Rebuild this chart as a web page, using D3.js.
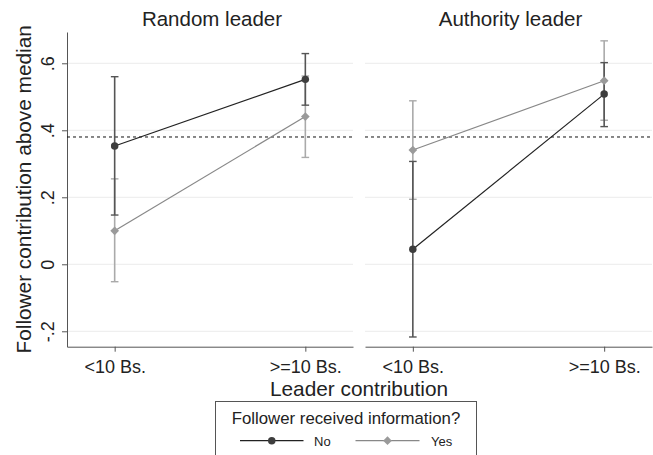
<!DOCTYPE html>
<html>
<head>
<meta charset="utf-8">
<script src="https://cdn.jsdelivr.net/npm/d3@7"></script>
<style>
  html, body { margin: 0; padding: 0; background: #fff; }
  svg { display: block; font-family: "Liberation Sans", Arial, Helvetica, sans-serif; }
</style>
</head>
<body>
<svg id="chart" width="653" height="455"></svg>
<script>
// Leader contribution categories and panel names
const categories = ["<10 Bs.", ">=10 Bs."];
const panels = ["Random leader", "Authority leader"];
const seriesNames = ["No", "Yes"];

// Follower received information? = No  (per panel: [<10, >=10])
const noMean = [[0.353, 0.552], [0.045, 0.508]];
const noLow  = [[0.147, 0.475], [-0.217, 0.411]];
const noHigh = [[0.560, 0.629], [0.307, 0.602]];

// Follower received information? = Yes
const yesMean = [[0.100, 0.441], [0.341, 0.548]];
const yesLow  = [[-0.052, 0.319], [0.194, 0.430]];
const yesHigh = [[0.255, 0.562], [0.488, 0.667]];

// Median reference line
const medianRef = 0.380;

const yTicks = [-0.2, 0, 0.2, 0.4, 0.6];
const yTickLabels = ["-.2", "0", ".2", ".4", ".6"];

const svg = d3.select("#chart");

const panelX = [[67, 353], [365, 652]];
const plotTop = 32, plotBottom = 346.7;

const y = d3.scaleLinear().domain([-0.246, 0.6934]).range([plotBottom, plotTop]);

const colors = {
  No:  { line: "#222", marker: "#3d3d3d", err: "#555" },
  Yes: { line: "#888", marker: "#9a9a9a", err: "#aaa" }
};

// markers: filled circle, and a square turned 45 degrees
const markerShape = {
  No:  { type: d3.symbolCircle, size: 44, rot: 0 },
  Yes: { type: d3.symbolSquare, size: 38, rot: 45 }
};

const series = [
  { name: "Yes", mean: yesMean, low: yesLow, high: yesHigh },
  { name: "No",  mean: noMean,  low: noLow,  high: noHigh }
];

panels.forEach((title, p) => {
  const [x0, x1] = panelX[p];
  const x = d3.scaleLinear().domain([-0.25, 1.25]).range([x0, x1]);
  const g = svg.append("g");

  // gridlines
  g.selectAll("line.grid").data(yTicks).join("line")
    .attr("x1", x0).attr("x2", x1)
    .attr("y1", d => y(d)).attr("y2", d => y(d))
    .attr("stroke", "#ebebeb").attr("stroke-width", 1);

  // x axis
  const xAxis = d3.axisBottom(x).tickValues([0, 1]).tickFormat(i => categories[i]).tickSize(5).tickSizeOuter(0);
  const xa = g.append("g").attr("transform", `translate(0,${plotBottom})`).call(xAxis);
  xa.attr("font-family", null);
  xa.select(".domain").attr("stroke", "#555");
  xa.selectAll(".tick line").attr("stroke", "#555");
  xa.selectAll(".tick text").attr("font-size", 18).attr("fill", "#222").attr("dy", 0).attr("y", 26);

  // y axis on the first panel only
  if (p === 0) {
    const yAxis = d3.axisLeft(y).tickValues(yTicks).tickFormat((d, i) => yTickLabels[i]).tickSize(5).tickSizeOuter(0);
    const ya = g.append("g").attr("transform", `translate(${x0},0)`).call(yAxis);
    ya.attr("font-family", null);
    ya.select(".domain").attr("stroke", "#555");
    ya.selectAll(".tick line").attr("stroke", "#555");
    ya.selectAll(".tick text")
      .attr("font-size", 18).attr("fill", "#222")
      .attr("x", null).attr("dy", null)
      .attr("text-anchor", "middle")
      .attr("transform", "translate(-13,0) rotate(-90)");
  }

  // median reference line
  g.append("line")
    .attr("x1", x0).attr("x2", x1)
    .attr("y1", y(medianRef)).attr("y2", y(medianRef))
    .attr("stroke", "#111").attr("stroke-width", 1).attr("stroke-dasharray", "3,3");

  // panel title
  g.append("text")
    .attr("x", (x0 + x1) / 2 + 2).attr("y", 26)
    .attr("text-anchor", "middle").attr("font-size", 20.5).attr("fill", "#222")
    .text(title);

  // error bars
  series.forEach(s => {
    const c = colors[s.name];
    [0, 1].forEach(i => {
      const cx = x(i);
      g.append("line").attr("x1", cx).attr("x2", cx)
        .attr("y1", y(s.low[p][i])).attr("y2", y(s.high[p][i]))
        .attr("stroke", c.err).attr("stroke-width", 1.6);
      [s.low[p][i], s.high[p][i]].forEach(v => {
        g.append("line").attr("x1", cx - 3.8).attr("x2", cx + 3.8)
          .attr("y1", y(v)).attr("y2", y(v))
          .attr("stroke", c.err).attr("stroke-width", 1.4);
      });
    });
  });

  // connecting lines and markers
  series.forEach(s => {
    const c = colors[s.name];
    const m = markerShape[s.name];
    const pts = [0, 1].map(i => [x(i), y(s.mean[p][i])]);
    g.append("path").attr("d", d3.line()(pts))
      .attr("fill", "none").attr("stroke", c.line).attr("stroke-width", 1.2);
    g.selectAll(null).data(pts).join("path")
      .attr("transform", d => `translate(${d[0]},${d[1]}) rotate(${m.rot})`)
      .attr("d", d3.symbol().type(m.type).size(m.size))
      .attr("fill", c.marker);
  });
});

// y axis title
svg.append("text")
  .attr("transform", `translate(31,${(plotTop + plotBottom) / 2}) rotate(-90)`)
  .attr("text-anchor", "middle").attr("font-size", 20.8).attr("fill", "#222")
  .text("Follower contribution above median");

// x axis title
svg.append("text")
  .attr("x", 359).attr("y", 396)
  .attr("text-anchor", "middle").attr("font-size", 20.8).attr("fill", "#222")
  .text("Leader contribution");

// legend
const lg = svg.append("g");
lg.append("rect")
  .attr("x", 215.5).attr("y", 401.5).attr("width", 261).attr("height", 70)
  .attr("fill", "#fff").attr("stroke", "#555").attr("stroke-width", 1);
lg.append("text")
  .attr("x", 346).attr("y", 424)
  .attr("text-anchor", "middle").attr("font-size", 16.8).attr("fill", "#222")
  .text("Follower received information?");

const legendItems = [
  { name: "No", x1: 240, x2: 303.5, tx: 314 },
  { name: "Yes", x1: 355.5, x2: 419.5, tx: 431 }
];
legendItems.forEach(it => {
  const c = colors[it.name];
  const m = markerShape[it.name];
  const ly = 440.7;
  lg.append("line").attr("x1", it.x1).attr("x2", it.x2).attr("y1", ly).attr("y2", ly)
    .attr("stroke", c.line).attr("stroke-width", 1.2);
  lg.append("path").attr("transform", `translate(${(it.x1 + it.x2) / 2},${ly}) rotate(${m.rot})`)
    .attr("d", d3.symbol().type(m.type).size(m.size)).attr("fill", c.marker);
  lg.append("text").attr("x", it.tx).attr("y", 446)
    .attr("font-size", 13).attr("fill", "#222").text(it.name);
});
</script>
</body>
</html>
